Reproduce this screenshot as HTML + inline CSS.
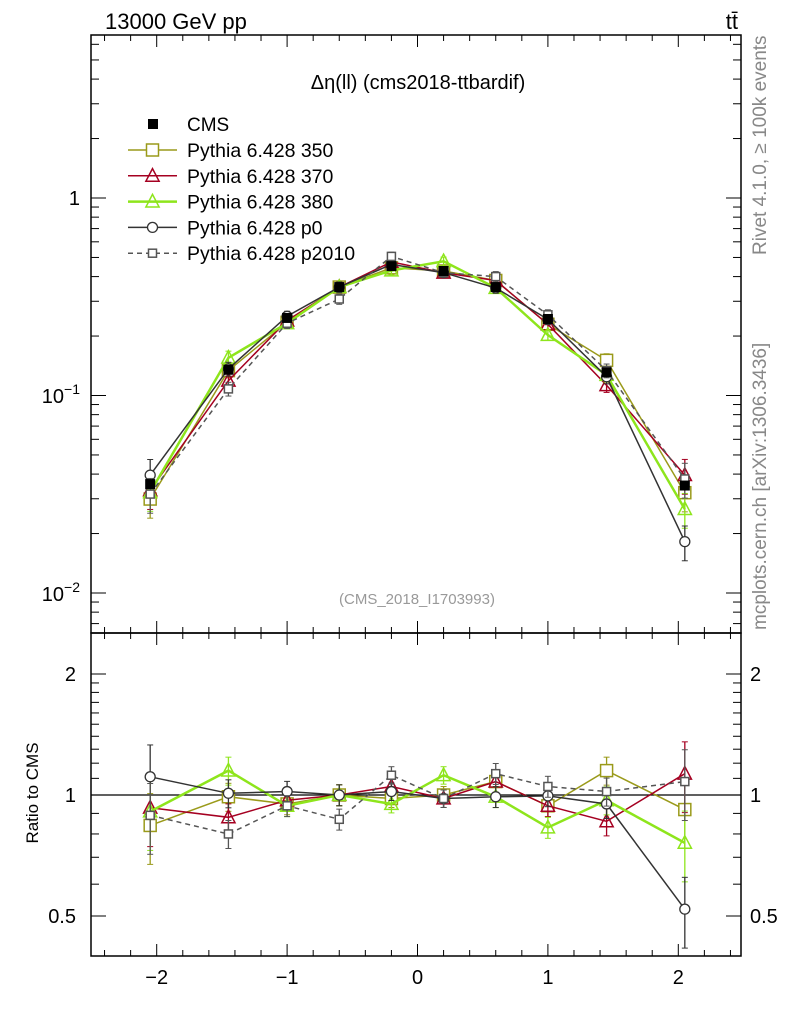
<!DOCTYPE html>
<html><head><meta charset="utf-8"><style>
html,body{margin:0;padding:0;background:#fff}
svg{display:block;font-family:"Liberation Sans",sans-serif}
</style></head><body>
<svg id="s" width="786" height="1024" viewBox="0 0 786 1024" xmlns="http://www.w3.org/2000/svg"></svg>
<script>
const S=document.getElementById('s');let h='';
const L=91,R=741,T=35,M=633,B=956;
const X=v=>417.5+v*130.4;
const YM=v=>198-Math.log10(v)*197.5;
const YR=v=>795-Math.log2(v)*121;
h+=`<rect x="${L}" y="${T}" width="${R-L}" height="${M-T}" fill="none" stroke="#000" stroke-width="1.5"/>`;
h+=`<rect x="${L}" y="${M}" width="${R-L}" height="${B-M}" fill="none" stroke="#000" stroke-width="1.5"/>`;
for(let v=-2.4;v<=2.41;v+=0.2){const x=X(v);const maj=Math.abs(v-Math.round(v))<0.01;const l=maj?12:6;
 for(const [y0,d] of [[T,1],[M,-1],[M,1],[B,-1]]) h+=`<line x1="${x}" x2="${x}" y1="${y0}" y2="${y0+d*l}" stroke="#000"/>`;}
[-2,-1,0,1,2].forEach(v=>{h+=`<text x="${X(v)}" y="984" font-size="20" text-anchor="middle">${v<0?'−'+(-v):v}</text>`;});
for(let e=-3;e<=0;e++)for(let k=1;k<=9;k++){const v=k*Math.pow(10,e);const y=YM(v);if(y<T||y>M)continue;const l=k==1?15:8;
 h+=`<line x1="${L}" x2="${L+l}" y1="${y}" y2="${y}" stroke="#000"/><line x1="${R}" x2="${R-l}" y1="${y}" y2="${y}" stroke="#000"/>`;}
h+=`<text x="80" y="205" font-size="20" text-anchor="end">1</text>`;
h+=`<text x="80" y="403" font-size="20" text-anchor="end">10<tspan font-size="14" dy="-9">−1</tspan></text>`;
h+=`<text x="80" y="601" font-size="20" text-anchor="end">10<tspan font-size="14" dy="-9">−2</tspan></text>`;
[0.5,0.6,0.7,0.8,0.9,1,1.1,1.2,1.3,1.4,1.5,1.6,1.7,1.8,1.9,2].forEach(v=>{const y=YR(v);const l=(v==0.5||v==1||v==2)?15:8;
 h+=`<line x1="${L}" x2="${L+l}" y1="${y}" y2="${y}" stroke="#000"/><line x1="${R}" x2="${R-l}" y1="${y}" y2="${y}" stroke="#000"/>`;});
[[2,'2'],[1,'1'],[0.5,'0.5']].forEach(([v,t])=>{h+=`<text x="76" y="${YR(v)+7}" font-size="20" text-anchor="end">${t}</text><text x="750" y="${YR(v)+7}" font-size="20">${t}</text>`;});
h+=`<line x1="${L}" x2="${R}" y1="${YR(1)}" y2="${YR(1)}" stroke="#000" stroke-width="1.2"/>`;
const xs=[-2.05,-1.45,-1.0,-0.6,-0.2,0.2,0.6,1.0,1.45,2.05];
const cms=[0.0356,0.135,0.247,0.354,0.452,0.427,0.354,0.244,0.131,0.035];
const errf=[0.2,0.08,0.06,0.06,0.05,0.05,0.06,0.06,0.08,0.2];
const ser=[
 {c:'#9a9a1a',m:'sq',s:12,r:[0.84,0.99,0.95,1.0,0.98,1.0,1.08,0.94,1.15,0.92],w:1.5},
 {c:'#a50021',m:'tri',s:12,r:[0.93,0.88,0.97,1.0,1.05,0.98,1.08,0.94,0.86,1.13],w:1.5},
 {c:'#8ee51c',m:'tri',s:12,r:[0.91,1.15,0.94,1.0,0.95,1.12,0.99,0.83,0.97,0.76],w:2.5},
 {c:'#333333',m:'circ',s:5,r:[1.11,1.01,1.02,1.0,1.02,0.98,0.99,0.995,0.95,0.52],w:1.5},
 {c:'#555555',m:'sq',s:8,r:[0.89,0.80,0.94,0.87,1.12,0.98,1.13,1.05,1.02,1.08],w:1.5,d:'5,4'}];
function mk(m,x,y,s,c){if(m=='sq')return `<rect x="${x-s/2}" y="${y-s/2}" width="${s}" height="${s}" fill="#fff" stroke="${c}" stroke-width="1.5"/>`;
 if(m=='tri')return `<polygon points="${x},${y-s*0.6} ${x-s*0.55},${y+s*0.45} ${x+s*0.55},${y+s*0.45}" fill="none" stroke="${c}" stroke-width="1.5"/>`;
 return `<circle cx="${x}" cy="${y}" r="${s}" fill="#fff" stroke="${c}" stroke-width="1.3"/>`;}
ser.forEach(o=>{
 for(const [Y,val] of [[YM,i=>cms[i]*o.r[i]],[YR,i=>o.r[i]]]){
  let p=xs.map((x,i)=>`${X(x).toFixed(1)},${Y(val(i)).toFixed(1)}`).join(' ');
  h+=`<polyline points="${p}" fill="none" stroke="${o.c}" stroke-width="${o.w}" ${o.d?`stroke-dasharray="${o.d}"`:''}/>`;
  xs.forEach((x,i)=>{const v=val(i),e=errf[i];const px=X(x);const y1=Y(v*(1+e)),y2=Y(v*(1-e));
   h+=`<line x1="${px}" x2="${px}" y1="${y1}" y2="${y2}" stroke="${o.c}" stroke-width="1.3"/><line x1="${px-3}" x2="${px+3}" y1="${y1}" y2="${y1}" stroke="${o.c}"/><line x1="${px-3}" x2="${px+3}" y1="${y2}" y2="${y2}" stroke="${o.c}"/>`;
   h+=mk(o.m,px,Y(v),o.s,o.c);});
 }});
xs.forEach((x,i)=>{h+=`<rect x="${X(x)-5}" y="${YM(cms[i])-5}" width="10" height="10" fill="#000"/>`;});
h+=`<rect x="148" y="119" width="10" height="10" fill="#000"/><text x="187" y="131" font-size="19">CMS</text>`;
const names=['Pythia 6.428 350','Pythia 6.428 370','Pythia 6.428 380','Pythia 6.428 p0','Pythia 6.428 p2010'];
ser.forEach((o,i)=>{const y=150+i*25.8;h+=`<line x1="128" x2="177" y1="${y}" y2="${y}" stroke="${o.c}" stroke-width="${o.w}" ${o.d?`stroke-dasharray="${o.d}"`:''}/>`+mk(o.m,152.5,y,o.s,o.c)+`<text x="187" y="${y+7}" font-size="19.5">${names[i]}</text>`;});
h+=`<text x="105" y="29" font-size="22">13000 GeV pp</text>`;
h+=`<text x="738" y="29" font-size="22" text-anchor="end">tt̄</text>`;
h+=`<text x="418" y="89" font-size="20" text-anchor="middle">Δη(ll) (cms2018-ttbardif)</text>`;
h+=`<text x="417" y="604" font-size="15" fill="#999" text-anchor="middle">(CMS_2018_I1703993)</text>`;
h+=`<text transform="translate(38,793) rotate(-90)" font-size="17" text-anchor="middle">Ratio to CMS</text>`;
h+=`<text transform="translate(766,255) rotate(-90)" font-size="19" fill="#888">Rivet 4.1.0, ≥ 100k events</text>`;
h+=`<text transform="translate(766,630) rotate(-90)" font-size="19" fill="#888">mcplots.cern.ch [arXiv:1306.3436]</text>`;
S.innerHTML=h;
</script>
</body></html>
